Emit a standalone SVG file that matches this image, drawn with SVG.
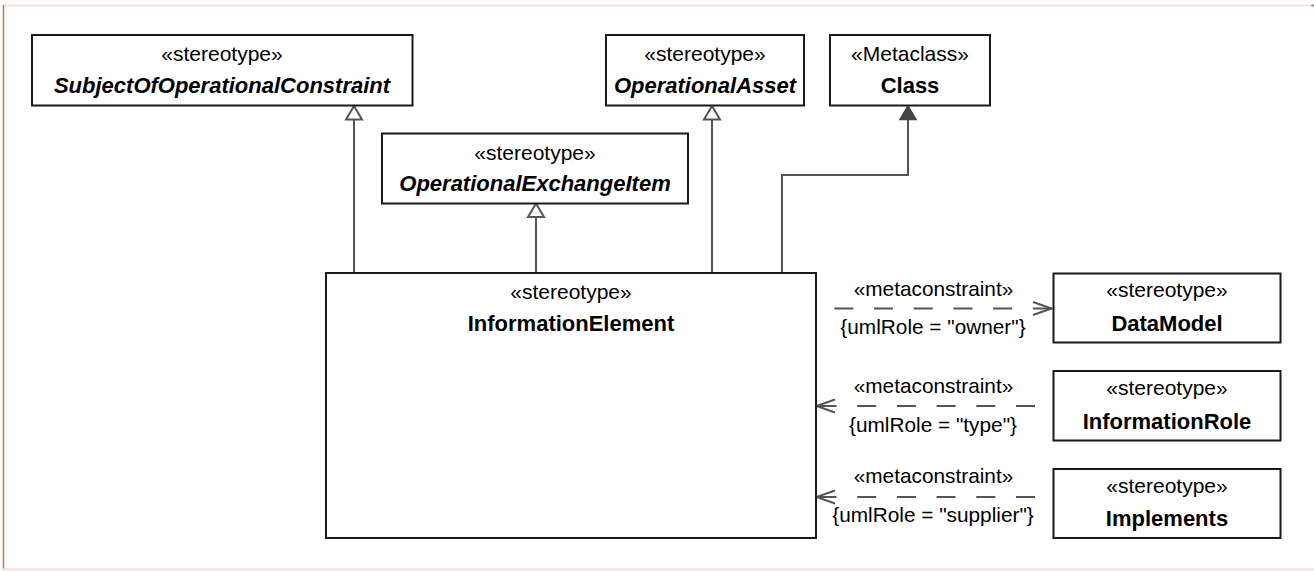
<svg xmlns="http://www.w3.org/2000/svg" width="1314" height="571" viewBox="0 0 1314 571">
<style>
.box{fill:#fff;stroke:#1a1a1a;stroke-width:2}
.st{font-family:"Liberation Sans",Arial,sans-serif;font-size:21px;fill:#000;text-anchor:middle}
.nm{font-family:"Liberation Sans",Arial,sans-serif;font-size:22px;font-weight:bold;fill:#000;text-anchor:middle}
.it{font-style:italic}
.lbl{font-family:"Liberation Sans",Arial,sans-serif;font-size:20.8px;fill:#000;text-anchor:middle}
.gen{fill:none;stroke:#555;stroke-width:2}
.dep{fill:none;stroke:#555;stroke-width:2;stroke-dasharray:19 20.7}
</style>
<defs>
<marker id="hollow" markerUnits="userSpaceOnUse" viewBox="-16 -10 18 20" markerWidth="18" markerHeight="20" refX="0" refY="0" orient="auto">
<path d="M0,0 L-13.5,-8 L-13.5,8 Z" fill="#fff" stroke="#555" stroke-width="2"/>
</marker>
<marker id="filled" markerUnits="userSpaceOnUse" viewBox="-16 -10 18 20" markerWidth="18" markerHeight="20" refX="0" refY="0" orient="auto">
<path d="M0,0 L-13.5,-8 L-13.5,8 Z" fill="#444" stroke="#444" stroke-width="1.5"/>
</marker>
<marker id="open" markerUnits="userSpaceOnUse" viewBox="-21 -9 23 18" markerWidth="23" markerHeight="18" refX="0" refY="0" orient="auto">
<path d="M-18.5,-6.5 L0,0 L-18.5,6.5" fill="none" stroke="#555" stroke-width="2"/>
</marker>
</defs>
<rect x="0" y="0" width="1314" height="571" fill="#fff"/>
<g id="frame">
<line x1="3" y1="5.5" x2="1312" y2="5.5" stroke="#f7d9dc" stroke-width="1.5"/>
<rect x="1311.5" y="4.5" width="2" height="2" fill="#b04a4a"/>
<line x1="3.5" y1="5" x2="3.5" y2="570" stroke="#d06b6b" stroke-width="1.5"/>
<line x1="3" y1="569.5" x2="1314" y2="569.5" stroke="#f9dde1" stroke-width="2"/>
</g>
<g id="connectors">
<path class="gen" d="M354,273 V106" marker-end="url(#hollow)"/>
<path class="gen" d="M536,273 V203.5" marker-end="url(#hollow)"/>
<path class="gen" d="M712,273 V106" marker-end="url(#hollow)"/>
<path class="gen" d="M782,273 V175 H908 V106" marker-end="url(#filled)"/>
<path class="dep" d="M834.3,308.5 H1051.5" marker-end="url(#open)"/>
<path class="dep" d="M1035,406 H816.5" marker-end="url(#open)"/>
<path class="dep" d="M1035,497 H816.5" marker-end="url(#open)"/>
<text class="lbl" x="933.5" y="296">«metaconstraint»</text>
<text class="lbl" x="933" y="334">{umlRole = "owner"}</text>
<text class="lbl" x="933.5" y="392.5">«metaconstraint»</text>
<text class="lbl" x="933" y="431.5">{umlRole = "type"}</text>
<text class="lbl" x="933.5" y="482.5">«metaconstraint»</text>
<text class="lbl" x="933" y="521.5">{umlRole = "supplier"}</text>
</g>
<g id="SubjectOfOperationalConstraint">
<rect class="box" x="32" y="35" width="380.5" height="70.5"/>
<text class="st" x="222" y="61">«stereotype»</text>
<text class="nm it" x="222" y="93">SubjectOfOperationalConstraint</text>
</g>
<g id="OperationalExchangeItem">
<rect class="box" x="382" y="133.5" width="306" height="70"/>
<text class="st" x="535" y="159.5">«stereotype»</text>
<text class="nm it" x="535" y="191">OperationalExchangeItem</text>
</g>
<g id="OperationalAsset">
<rect class="box" x="606" y="35" width="198" height="70.5"/>
<text class="st" x="705" y="61">«stereotype»</text>
<text class="nm it" x="705" y="93">OperationalAsset</text>
</g>
<g id="Class">
<rect class="box" x="830" y="35" width="160" height="70.5"/>
<text class="st" x="910" y="61">«Metaclass»</text>
<text class="nm" x="910" y="93">Class</text>
</g>
<g id="InformationElement">
<rect class="box" x="326" y="273" width="490" height="265"/>
<text class="st" x="571" y="299">«stereotype»</text>
<text class="nm" x="571" y="331">InformationElement</text>
</g>
<g id="DataModel">
<rect class="box" x="1053.5" y="273.5" width="227" height="69"/>
<text class="st" x="1167" y="297">«stereotype»</text>
<text class="nm" x="1167" y="330.5">DataModel</text>
</g>
<g id="InformationRole">
<rect class="box" x="1053.5" y="371" width="227" height="69.5"/>
<text class="st" x="1167" y="395">«stereotype»</text>
<text class="nm" x="1167" y="428.5">InformationRole</text>
</g>
<g id="Implements">
<rect class="box" x="1053.5" y="469" width="227" height="69"/>
<text class="st" x="1167" y="493">«stereotype»</text>
<text class="nm" x="1167" y="526">Implements</text>
</g>
</svg>
